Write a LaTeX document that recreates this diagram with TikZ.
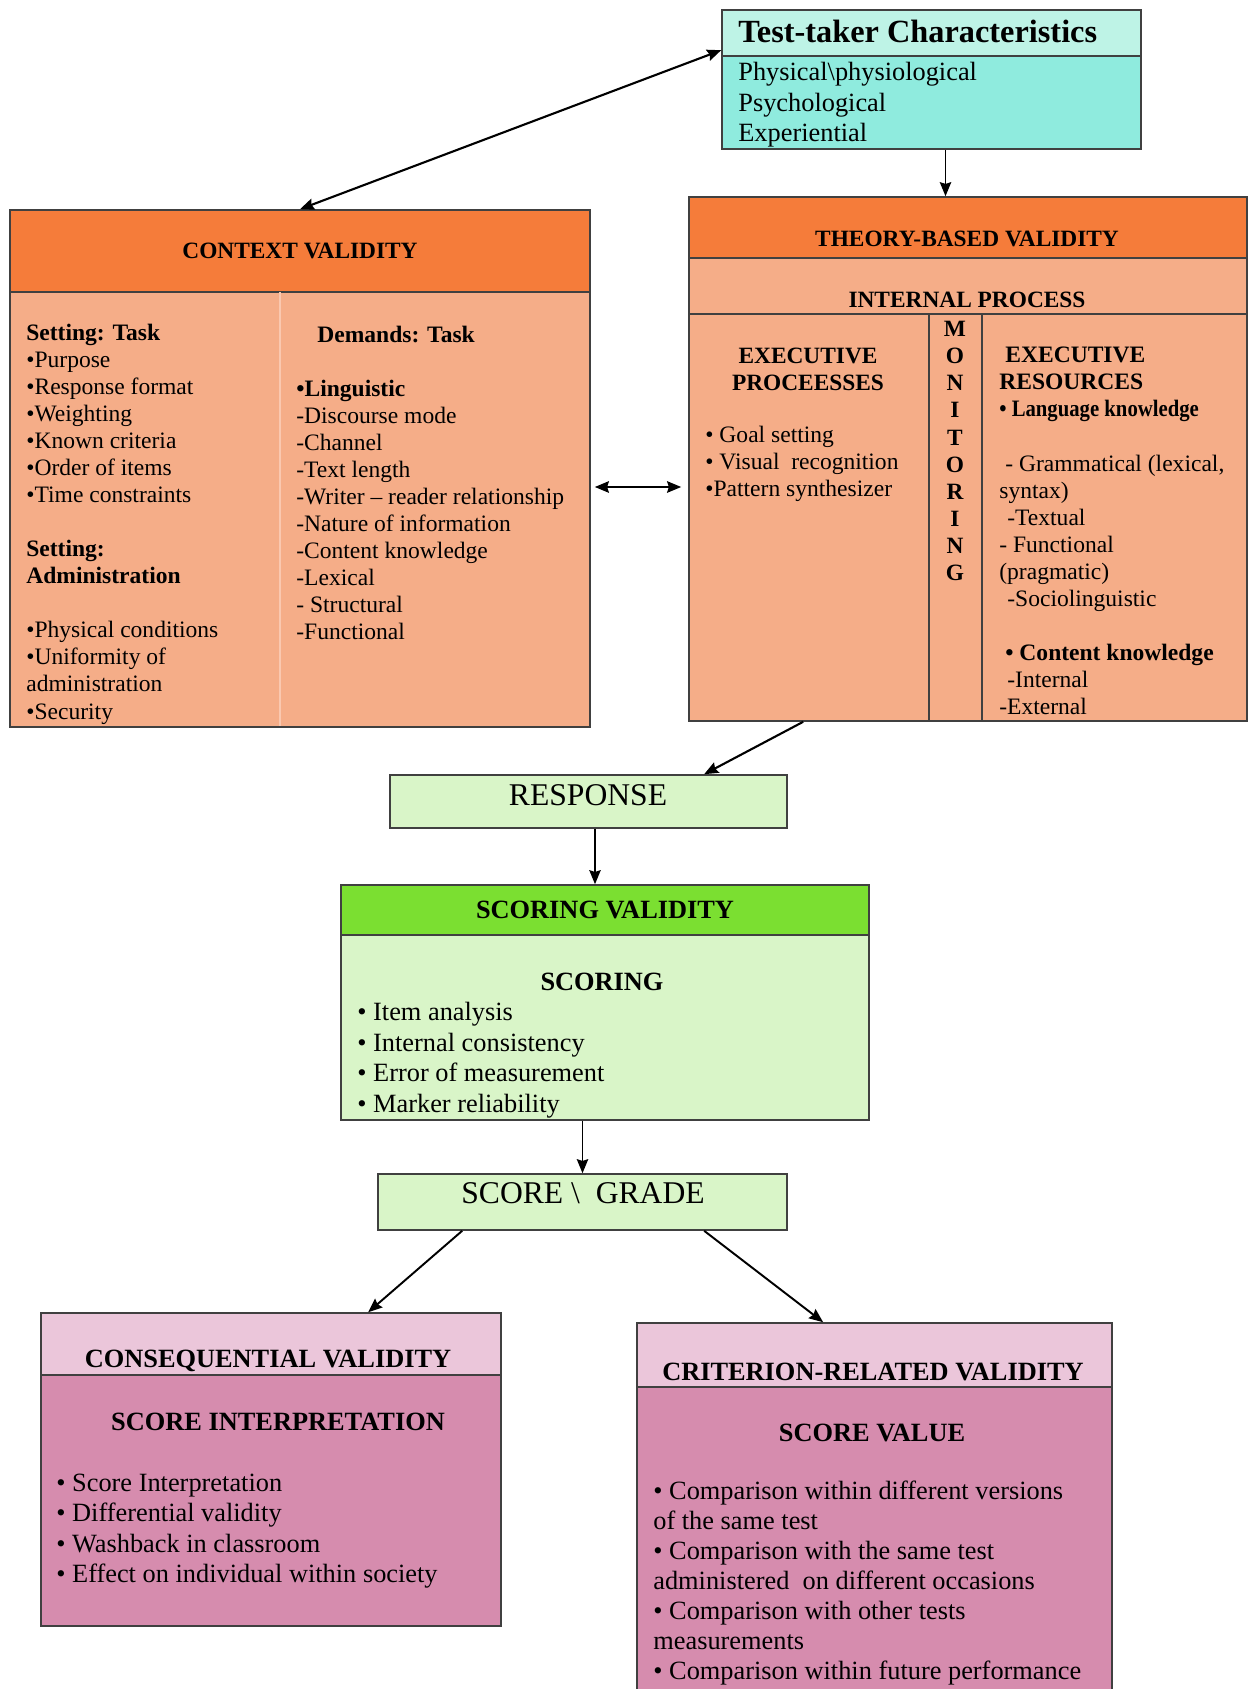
\documentclass[tikz,border=0pt]{standalone}
\usepackage{fontspec}
\setmainfont{Liberation Serif}
\usetikzlibrary{fit, arrows.meta}
\definecolor{mintlight}{RGB}{190,243,230}
\definecolor{mint}{RGB}{143,235,222}
\definecolor{orangehead}{RGB}{245,124,58}
\definecolor{salmon}{RGB}{245,173,136}
\definecolor{salmonline}{RGB}{250,200,176}
\definecolor{greenlight}{RGB}{217,245,200}
\definecolor{greenhead}{RGB}{123,223,49}
\definecolor{pinklight}{RGB}{235,198,218}
\definecolor{pinkbody}{RGB}{214,140,174}

\begin{document}
\begin{tikzpicture}[>={Stealth[length=8pt,width=6.5pt,inset=1pt]}, x=0.02cm, y=-0.02cm,
    box/.style={draw=black!75, line width=0.9pt, inner sep=0pt},
    rule/.style={draw=black!75, line width=0.9pt},
    lines/.style={inner sep=0pt, align=left, anchor=west},
    small/.style={font=\fontsize{13.4}{15.4}\selectfont},
    big/.style={font=\fontsize{15}{17.4}\selectfont},
    head/.style={inner sep=0pt, font=\bfseries\fontsize{13.3}{15.4}\selectfont},
    bighead/.style={inner sep=0pt, font=\bfseries\fontsize{15}{17.4}\selectfont},
    huge/.style={inner sep=0pt, font=\fontsize{18}{20}\selectfont}]
    \useasboundingbox (0,0) rectangle (1248,1689);

    \node[box, fill=mint, fit={(722,10)(1141,149)}] (tt) {};
    \node[box, fill=mintlight, fit={(722,10)(1141,56)}] (tthead) {};
    \node[inner sep=0pt, anchor=west, font=\bfseries\fontsize{18.4}{20}\selectfont] at (738,31) {Test-taker Characteristics};
    \node[lines, big] at (738,105) {Physical\textbackslash physiological\\Psychological\\Experiential};

    \node[box, fill=salmon, fit={(10,210)(590,727)}] (ctx) {};
    \node[box, fill=orangehead, fit={(10,210)(590,292)}] (ctxhead) {};
    \draw[salmonline, line width=0.8pt] (280,292) -- (280,726);
    \node[head] at (ctxhead) {CONTEXT VALIDITY};
    \node[lines, small] at (26,524) {\textbf{Setting: Task}\\•Purpose\\•Response format\\•Weighting\\•Known criteria\\•Order of items\\•Time constraints\\[15.4pt]\textbf{Setting:}\\\textbf{Administration}\\[15.4pt]•Physical conditions\\•Uniformity of\\administration\\•Security};
    \node[lines, small] at (296,483) {\hspace*{0.42cm}\textbf{Demands: Task}\\[15.4pt]\textbf{•Linguistic}\\-Discourse mode\\-Channel\\-Text length\\-Writer – reader relationship\\-Nature of information\\-Content knowledge\\-Lexical\\- Structural\\-Functional};

    \node[box, fill=salmon, fit={(689,197)(1247,721)}] (thy) {};
    \node[box, fill=orangehead, fit={(689,197)(1247,258)}] (thyhead) {};
    \draw[rule] (689,314) -- (1247,314) (929,314) -- (929,721) (982,314) -- (982,721);
    \node[head] at (967,239) {THEORY-BASED VALIDITY};
    \node[head] at (967,300) {INTERNAL PROCESS};
    \node[head, align=center] at (808,369) {EXECUTIVE\\PROCEESSES};
    \node[lines, small] at (705,464) {• Goal setting\\• Visual\ \ recognition\\•Pattern synthesizer};
    \node[head, align=center] at (955,451) {M\\O\\N\\I\\T\\O\\R\\I\\N\\G};
    \node[lines, small] at (999,531) {\hspace*{0.12cm}\textbf{EXECUTIVE}\\\textbf{RESOURCES}\\\scalebox{0.88}[1]{\textbf{• Language knowledge}}\\[15.4pt]\hspace*{0.12cm}- Grammatical (lexical,\\syntax)\\\hspace*{0.16cm}-Textual\\- Functional\\(pragmatic)\\\hspace*{0.16cm}-Sociolinguistic\\[15.4pt]\hspace*{0.12cm}\textbf{• Content knowledge}\\\hspace*{0.16cm}-Internal\\-External};

    \node[box, fill=greenlight, fit={(390,775)(787,828)}] (resp) {};
    \node[huge] at (588,795) {RESPONSE};

    \node[box, fill=greenlight, fit={(341,885)(869,1120)}] (scv) {};
    \node[box, fill=greenhead, fit={(341,885)(869,935)}] (scvhead) {};
    \node[bighead] at (scvhead) {SCORING VALIDITY};
    \node[bighead] at (602,982) {SCORING};
    \node[lines, big] at (357,1060) {• Item analysis\\• Internal consistency\\• Error of measurement\\• Marker reliability};

    \node[box, fill=greenlight, fit={(378,1174)(787,1230)}] (grade) {};
    \node[huge] at (583,1193) {SCORE \textbackslash\ \ GRADE};

    \node[box, fill=pinkbody, fit={(41,1313)(501,1626)}] (cons) {};
    \node[box, fill=pinklight, fit={(41,1313)(501,1375)}] (conshead) {};
    \node[bighead] at (268,1361) {CONSEQUENTIAL VALIDITY};
    \node[bighead] at (278,1422) {SCORE INTERPRETATION};
    \node[lines, big] at (56,1531) {• Score Interpretation\\• Differential validity\\• Washback in classroom\\• Effect on individual within society};

    \node[box, fill=pinkbody, fit={(637,1323)(1112,1720)}] (crit) {};
    \node[box, fill=pinklight, fit={(637,1323)(1112,1387)}] (crithead) {};
    \node[bighead] at (873,1372) {CRITERION-RELATED VALIDITY};
    \node[bighead] at (872,1433) {SCORE VALUE};
    \node[lines, font=\fontsize{15}{17}\selectfont] at (653,1583) {• Comparison within different versions\\of the same test\\• Comparison with the same test\\administered\ \ on different occasions\\• Comparison with other tests\\measurements\\• Comparison within future performance};

    \draw[<->, line width=1.2pt] (ctx.north) -- ([yshift=-0.82cm]tt.north west);
    \draw[->, line width=0.9pt] ([xshift=0.28cm]tt.south) -- ([xshift=0.28cm]tt.south |- thy.north);
    \draw[<->, line width=1.2pt] ([xshift=0.08cm, yshift=-0.37cm]ctx.east) -- ([xshift=-0.14cm, yshift=-0.37cm]ctx.east -| thy.west);
    \draw[->, line width=1.2pt] ([xshift=2.3cm]thy.south west) -- ([xshift=6.3cm]resp.north west);
    \draw[->, line width=0.9pt] ([xshift=0.13cm]resp.south) -- ([xshift=0.13cm]resp.south |- scv.north);
    \draw[->, line width=0.9pt] (grade.north |- scv.south) -- (grade.north);
    \draw[->, line width=1.1pt] ([xshift=1.7cm]grade.south west) -- ([xshift=6.56cm]cons.north west);
    \draw[->, line width=1.1pt] ([xshift=6.54cm]grade.south west) -- ([xshift=3.74cm]crit.north west);
\end{tikzpicture}
\end{document}
